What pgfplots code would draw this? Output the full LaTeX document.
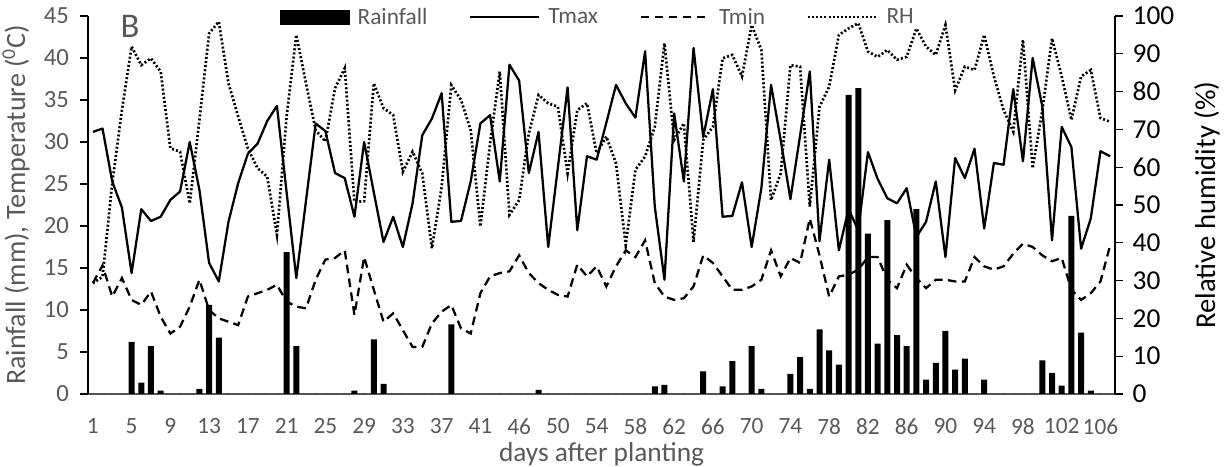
\documentclass[border=0pt]{standalone}
\usepackage{fontspec}
\setmainfont{Carlito}
\usepackage{pgfplots}
\usepackage{pgfplotstable}
\pgfplotsset{compat=1.18}
\definecolor{txtgray}{HTML}{595959}

\pgfplotstableread{
i rain tmax tmin rh
0 0 31.2 13.2 29.3
1 0 31.6 15.3 31.0
2 0 25.3 11.6 55.7
3 0 22.2 13.8 75.1
4 6.2 14.4 11.2 91.9
5 1.35 22.0 10.6 87.0
6 5.7 20.6 12.2 88.8
7 0.4 21.1 9.2 85.3
8 0 23.1 7.2 65.0
9 0 24.1 8.0 64.1
10 0 30.0 10.4 50.4
11 0.6 24.3 13.6 72.5
12 10.6 15.6 10.0 95.4
13 6.7 13.4 9.0 98.5
14 0 20.5 8.6 82.2
15 0 25.1 8.2 73.4
16 0 28.6 11.6 65.0
17 0 29.8 12.0 59.7
18 0 32.5 12.4 57.5
19 0 34.3 13.0 42.1
20 16.9 24.0 11.0 73.4
21 5.7 13.8 10.4 95.0
22 0 23.0 10.2 82.2
23 0 32.2 13.6 69.8
24 0 31.3 16.0 66.8
25 0 26.3 16.2 80.9
26 0 25.7 17.1 86.2
27 0.4 21.1 9.4 50.8
28 0 30.0 16.3 51.0
29 6.5 24.0 12.4 82.2
30 1.2 18.1 8.6 75.6
31 0 21.1 9.6 73.8
32 0 17.5 7.6 58.8
33 0 22.7 5.6 64.1
34 0 30.8 5.6 58.4
35 0 32.8 8.4 38.5
36 0 35.8 9.8 54.8
37 8.3 20.5 10.6 81.7
38 0 20.6 7.8 77.8
39 0 25.3 7.2 69.8
40 0 32.2 12.0 44.3
41 0 33.2 14.0 66.3
42 0 25.3 14.4 85.3
43 0 39.2 14.6 47.4
44 0 37.3 16.5 51.3
45 0 26.3 14.4 69.0
46 0.5 31.2 13.2 79.1
47 0 17.5 12.4 76.9
48 0 27.0 11.8 76.0
49 0 36.5 11.6 58.4
50 0 19.5 15.4 75.1
51 0 28.3 14.0 76.9
52 0 27.9 15.2 63.7
53 0 32.3 12.8 68.1
54 0 36.8 15.2 61.0
55 0 34.6 17.1 39.4
56 0 32.9 16.3 59.3
57 0 40.8 18.3 62.8
58 0.9 22.3 13.2 70.7
59 1.1 13.6 11.6 92.8
60 0 33.4 11.2 67.2
61 0 25.3 11.4 71.6
62 0 41.2 12.8 40.3
63 2.7 30.6 16.5 67.2
64 0 36.3 15.6 70.7
65 0.9 21.1 14.0 88.8
66 3.9 21.2 12.4 89.7
67 0 25.2 12.4 84.0
68 5.7 17.5 12.8 97.6
69 0.6 24.5 13.6 91.0
70 0 36.8 17.1 51.3
71 0 30.2 14.0 58.4
72 2.4 23.2 16.2 87.0
73 4.4 30.8 15.6 86.6
74 0.6 38.4 20.9 49.6
75 7.7 18.2 16.5 76.0
76 5.2 27.9 11.6 81.3
77 3.5 17.1 14.0 95.0
78 35.6 22.0 14.2 96.7
79 36.4 19.5 14.8 98.1
80 19.1 28.8 16.3 90.6
81 6.0 25.6 16.3 89.2
82 20.7 23.3 13.6 91.0
83 7.0 22.7 12.6 88.4
84 5.7 24.5 15.4 89.2
85 22.0 18.7 13.8 96.7
86 1.7 20.5 12.6 91.9
87 3.7 25.3 13.6 89.7
88 7.5 16.3 13.6 97.6
89 2.9 28.1 13.4 80.4
90 4.2 25.7 13.4 86.6
91 0 29.2 16.3 85.7
92 1.7 19.7 15.2 95.0
93 0 27.5 14.8 84.0
94 0 27.3 15.2 75.1
95 0 36.3 16.7 69.4
96 0 27.7 17.9 93.7
97 0 40.0 17.5 59.7
98 4.0 34.2 16.5 75.1
99 2.5 18.3 15.8 94.1
100 1.0 31.8 16.2 84.0
101 21.2 29.4 12.4 72.5
102 7.3 17.3 11.2 84.0
103 0.4 20.9 12.0 85.7
104 0 28.9 13.4 73.0
105 0 28.3 17.7 72.0
}\data

\pgfplotsset{
  commonaxis/.style={
    at={(0,0)}, anchor=south west,
    scale only axis, width=770.25pt, height=283.5pt,
    xmin=-0.5, xmax=105.5,
    tick align=outside, major tick length=5.75pt,
    /pgf/number format/assume math mode=true,
  },
  tmaxstyle/.style={black, line width=1.7pt, line join=round},
  tminstyle/.style={black, line width=1.7pt, dash pattern=on 6.5pt off 4pt},
  rhstyle/.style={black, line width=2pt, dash pattern=on 1.5pt off 1.6pt},
  lineleg/.style={legend image code/.code={\draw[##1] (0pt,0pt) -- (52pt,0pt);}},
}

\begin{document}
\begin{tikzpicture}
\path[use as bounding box] (-66pt,-54.75pt) rectangle (852.75pt,295.5pt);
\begin{axis}[
  commonaxis,
  ymin=0, ymax=45, ytick={0,5,...,45},
  axis x line*=bottom, axis y line*=left,
  x axis line style={-, draw=black!65, line width=1pt},
  y axis line style={-, line width=0.9pt},
  xtick={0,4,...,104},
  xticklabels={1,5,9,13,17,21,25,29,33,37,41,46,50,54,58,62,66,70,74,78,82,86,90,94,98,102,106},
  xtick style={draw=none},
  ytick style={black, line width=0.9pt},
  xticklabel style={font=\fontsize{17.5}{17.5}\selectfont, text=txtgray, yshift=-9pt},
  yticklabel style={font=\fontsize{18.5}{18.5}\selectfont, text=txtgray, xshift=-5pt},
  xlabel={days after planting},
  xlabel style={font=\fontsize{20.5}{20.5}\selectfont, text=txtgray, at={(axis description cs:0.5,-0.161)}, anchor=center},
  ylabel={Rainfall (mm), Temperature (\textsuperscript{0}C)},
  ylabel style={font=\fontsize{21}{21}\selectfont, text=txtgray, at={(axis description cs:-0.07,0.5)}, anchor=center, rotate=0},
  legend columns=4,
  legend style={at={(axis description cs:0.187,0.997)}, anchor=west, draw=none, fill=none,
    inner sep=0pt, font=\fontsize{17.5}{17.5}\selectfont, text=txtgray,
    nodes={inner sep=0pt},
    /tikz/every odd column/.append style={column sep=6pt},
    /tikz/every even column/.append style={column sep=31pt}},
  legend cell align=left,
  clip=false,
]
\addplot[ybar, bar width=4.5pt, fill=black, draw=none,
  legend image code/.code={\fill[black] (0pt,-5.6pt) rectangle (52pt,5.6pt);}]
  table[x=i, y=rain] {\data};
\addlegendentry{Rainfall}
\addplot[tmaxstyle, lineleg] table[x=i, y=tmax] {\data};
\addlegendentry{Tmax}
\addplot[tminstyle, lineleg] table[x=i, y=tmin] {\data};
\addlegendentry{Tmin}
\addlegendimage{rhstyle, lineleg}
\addlegendentry{RH}
\node[text=txtgray, font=\fontsize{26}{26}\selectfont] at (axis description cs:0.041,0.973) {B};
\end{axis}
\begin{axis}[
  commonaxis,
  ymin=0, ymax=100, ytick={0,10,...,100},
  axis x line=none, axis y line*=right,
  y axis line style={-, line width=0.9pt},
  ytick style={black, line width=0.9pt},
  yticklabel style={font=\fontsize{20.5}{20.5}\selectfont, text=black, xshift=4pt},
  ylabel={Relative humidity (\%)},
  ylabel style={font=\fontsize{21.5}{21.5}\selectfont, text=black, at={(axis description cs:1.0896,0.5)}, anchor=center, rotate=0},
]
\addplot[rhstyle] table[x=i, y=rh] {\data};
\end{axis}
\end{tikzpicture}
\end{document}
